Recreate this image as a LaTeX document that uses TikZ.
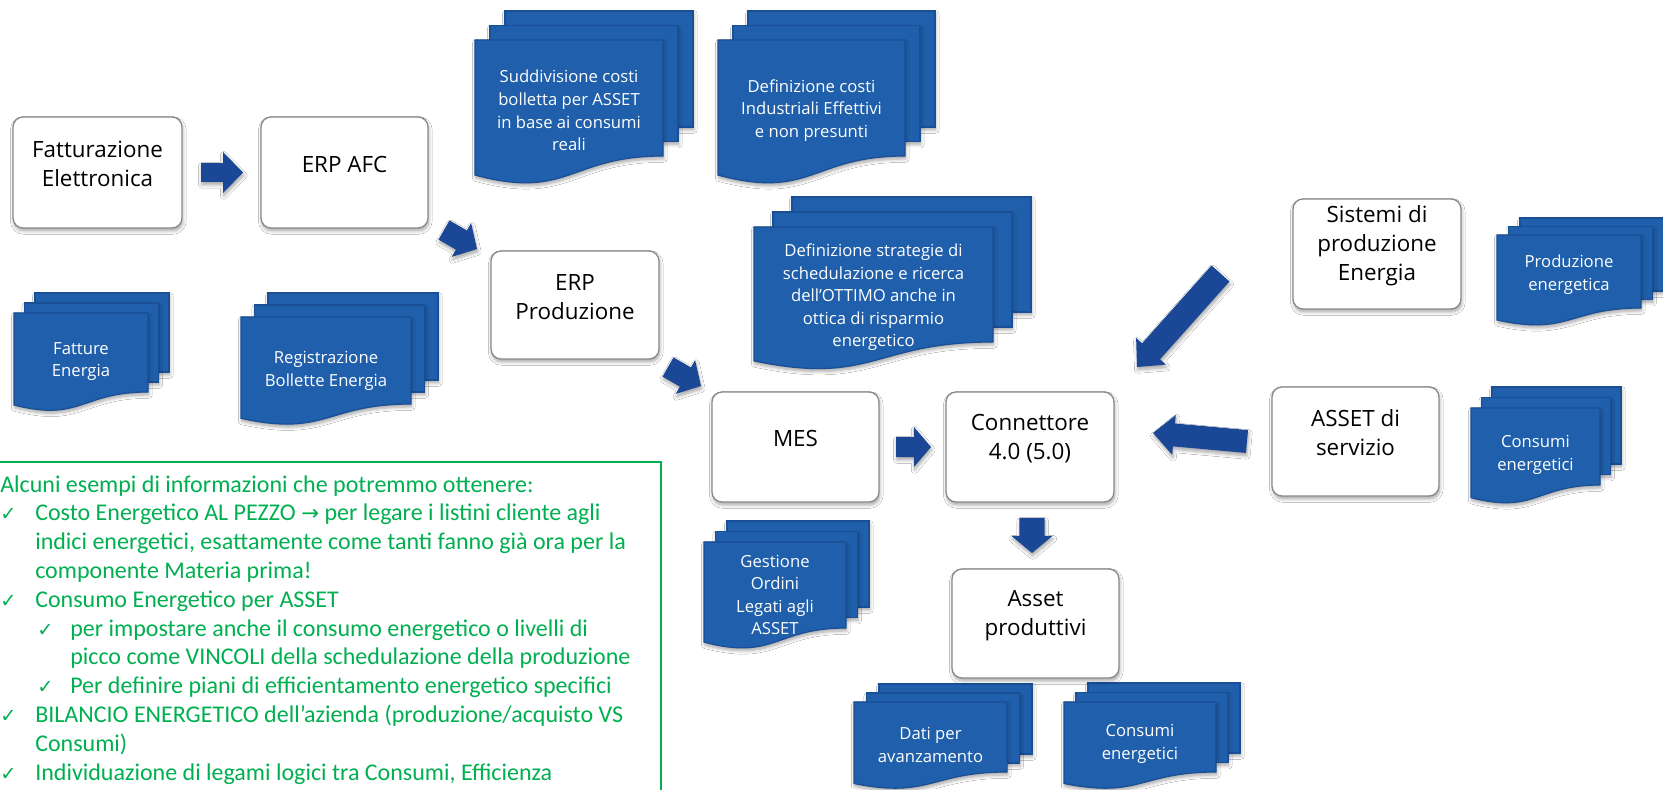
\documentclass[tikz,border=0pt]{standalone}
\usepackage{fontspec}
\setmainfont{Open Sans}
\newfontfamily\calib{Carlito}
\newfontfamily\djv{DejaVu Sans}
\usetikzlibrary{calc,fit,shadows.blur}
\definecolor{docfill}{HTML}{1F5FAB}
\definecolor{docline}{HTML}{1A4E95}
\definecolor{arrowc}{HTML}{1A4896}
\definecolor{boxline}{HTML}{8A8A8A}
\definecolor{grn}{HTML}{00B050}

\tikzset{
  softshadow/.style={blur shadow={shadow xshift=0.6pt, shadow yshift=-2.2pt, shadow opacity=35, shadow blur radius=2.5pt, shadow blur steps=6}},
  box/.style={draw=boxline, line width=1pt, fill=white, rounded corners=7.5pt, inner sep=0pt,
    align=center, font=\fontsize{16.8}{21.6}\selectfont, softshadow},
  docsheet/.style={fill=docfill, draw=docline, line width=0.9pt, softshadow},
  doctext/.style={text=white, align=center, inner sep=0pt, font=\fontsize{12.5}{16.9}\selectfont},
  blockarrow/.style={fill=arrowc, softshadow},
  gtext/.style={text=grn, anchor=base west, inner sep=0pt, font=\calib\fontsize{18}{21.6}\selectfont},
  gcheck/.style={text=grn, anchor=base west, inner sep=0pt, font=\djv\fontsize{14.5}{16}\selectfont},
}

\newcommand\mdoc[6]{% x1 y1 x2 yr ox oy
  \pgfmathsetmacro\mdH{(#4-#2)/0.802}%
  \pgfmathsetmacro\mdyl{#2+0.934*\mdH}%
  \pgfmathsetmacro\mdcy{#2+1.1075*\mdH}%
  \pgfmathsetmacro\mdxm{(#1+#3)/2}%
  \filldraw[docsheet] ({#1+2*#5},{#2-2*#6}) rectangle ({#3+2*#5},{#4-2*#6});
  \filldraw[docsheet] ({#1+#5},{#2-#6}) rectangle ({#3+#5},{#4-#6});
  \filldraw[docsheet] (#1,#2) -- (#3,#2) -- (#3,#4) .. controls (\mdxm,#4) and (\mdxm,\mdcy) .. (#1,\mdyl) -- cycle;
}

\newcommand\barrow[5]{% start, tip, shaft half width, head half width, head length
  \coordinate (hb) at ($(#2)!#5!(#1)$);
  \fill[blockarrow] ($(#1)!#3!90:(#2)$) -- ($(hb)!#3!90:(#2)$) -- ($(hb)!#4!90:(#2)$) -- (#2)
    -- ($(hb)!#4!-90:(#2)$) -- ($(hb)!#3!-90:(#2)$) -- ($(#1)!#3!-90:(#2)$) -- cycle;
}

\begin{document}
\begin{tikzpicture}[x=0.75pt, y=-0.75pt]
\useasboundingbox (0,0) rectangle (1663,789);
\clip (0,0) rectangle (1663,789);
\fill[white] (0,0) rectangle (1663,789);

% green information box
\draw[grn, line width=1.1pt] (-10,462) rectangle (661,810);
\node[gtext] (g1) at (0,492) {Alcuni esempi di informazioni che potremmo ottenere:};
\node[gcheck] (c2) at (0,520.8) {✓};
\node[gtext] (g2) at (35,520.8) {Costo Energetico AL PEZZO {\djv\fontsize{16}{16}\selectfont →} per legare i listini cliente agli};
\node[gtext] (g3) at (35,549.6) {indici energetici, esattamente come tanti fanno già ora per la};
\node[gtext] (g4) at (35,578.4) {componente Materia prima!};
\node[gcheck] (c5) at (0,607.2) {✓};
\node[gtext] (g5) at (35,607.2) {Consumo Energetico per ASSET};
\node[gcheck] (c6) at (37,636) {✓};
\node[gtext] (g6) at (70,636) {per impostare anche il consumo energetico o livelli di};
\node[gtext] (g7) at (70,664.8) {picco come VINCOLI della schedulazione della produzione};
\node[gcheck] (c8) at (37,693.6) {✓};
\node[gtext] (g8) at (70,693.6) {Per definire piani di efficientamento energetico specifici};
\node[gcheck] (c9) at (0,722.4) {✓};
\node[gtext] (g9) at (35,722.4) {BILANCIO ENERGETICO dell’azienda (produzione/acquisto VS};
\node[gtext] (g10) at (35,751.2) {Consumi)};
\node[gcheck] (c11) at (0,780) {✓};
\node[gtext] (g11) at (35,780) {Individuazione di legami logici tra Consumi, Efficienza};

% documents
\mdoc{14}{313}{148}{392}{10.5}{10}
\node[doctext] (dfat) at (81,361.5) {Fatture\\Energia};
\mdoc{241}{317}{411}{404}{13.5}{12}
\node[doctext] (dreg) at (326,371) {Registrazione\\Bollette Energia};
\mdoc{475}{40}{663}{156}{15}{14.5}
\node[doctext] (dsud) at (569,110.5) {Suddivisione costi\\bolletta per ASSET\\in base ai consumi\\reali};
\mdoc{718}{40}{905}{156}{15}{14.5}
\node[doctext] (dcos) at (811.5,110.5) {Definizione costi\\Industriali Effettivi\\e non presunti};
\mdoc{754}{227}{993}{342}{19}{15}
\node[doctext] (dstr) at (873.5,297.5) {Definizione strategie di\\schedulazione e ricerca\\dell’OTTIMO anche in\\ottica di risparmio\\energetico};
\mdoc{1497}{235}{1641}{308}{11.5}{8.5}
\node[doctext] (dpro) at (1569,274.5) {Produzione\\energetica};
\mdoc{1471}{408}{1600}{485}{10.5}{10.5}
\node[doctext] (dcon1) at (1535.5,455) {Consumi\\energetici};
\mdoc{704}{542}{846}{628}{11.5}{10.5}
\node[doctext] (dges) at (775,595) {Gestione\\Ordini\\Legati agli\\ASSET};
\mdoc{854}{702}{1007}{772}{12.5}{9}
\node[doctext] (ddat) at (930.5,745) {Dati per\\avanzamento};
\mdoc{1064}{702}{1216}{772}{12}{9.5}
\node[doctext] (dcon2) at (1140,744) {Consumi\\energetici};

% boxes
\node[box, fit={(13,117) (182,228)}] (fatt) {Fatturazione\\Elettronica};
\node[box, fit={(261,117) (428,228)}] (afc) {ERP AFC};
\node[box, fit={(491,251) (659,359)}] (erpp) {ERP\\Produzione};
\node[box, fit={(712,392) (879,502)}] (mes) {MES};
\node[box, fit={(946,392) (1114,502)}] (conn) {Connettore\\4.0 (5.0)};
\node[box, fit={(952,569) (1119,678)}] (asset) {Asset\\produttivi};
\node[box, fit={(1293,199) (1461,309)}] (sist) {Sistemi di\\produzione\\Energia};
\node[box, fit={(1272,387) (1439,496)}] (serv) {ASSET di\\servizio};

% block arrows
\coordinate (a1s) at (201,172.5);  \coordinate (a1e) at (243,172.5);
\coordinate (a2s) at (444,230);    \coordinate (a2e) at (477,249);
\coordinate (a3s) at (668,367);    \coordinate (a3e) at (701,386);
\coordinate (a4s) at (896,447);    \coordinate (a4e) at (931,447);
\coordinate (a5s) at (1032,518);   \coordinate (a5e) at (1032,553);
\coordinate (a6s) at (1220.5,273.5); \coordinate (a6e) at (1137,367);
\coordinate (a7s) at (1247,441.5); \coordinate (a7e) at (1153,433);
\barrow{a1s}{a1e}{7.1pt}{15.4pt}{15pt}
\barrow{a2s}{a2e}{8.3pt}{14.6pt}{13.5pt}
\barrow{a3s}{a3e}{8.3pt}{14.6pt}{13.5pt}
\barrow{a4s}{a4e}{7.5pt}{15pt}{12.8pt}
\barrow{a5s}{a5e}{9.4pt}{15.4pt}{12.8pt}
\barrow{a6s}{a6e}{9pt}{15pt}{15.8pt}
\barrow{a7s}{a7e}{8.6pt}{15pt}{15.8pt}
\end{tikzpicture}
\end{document}
